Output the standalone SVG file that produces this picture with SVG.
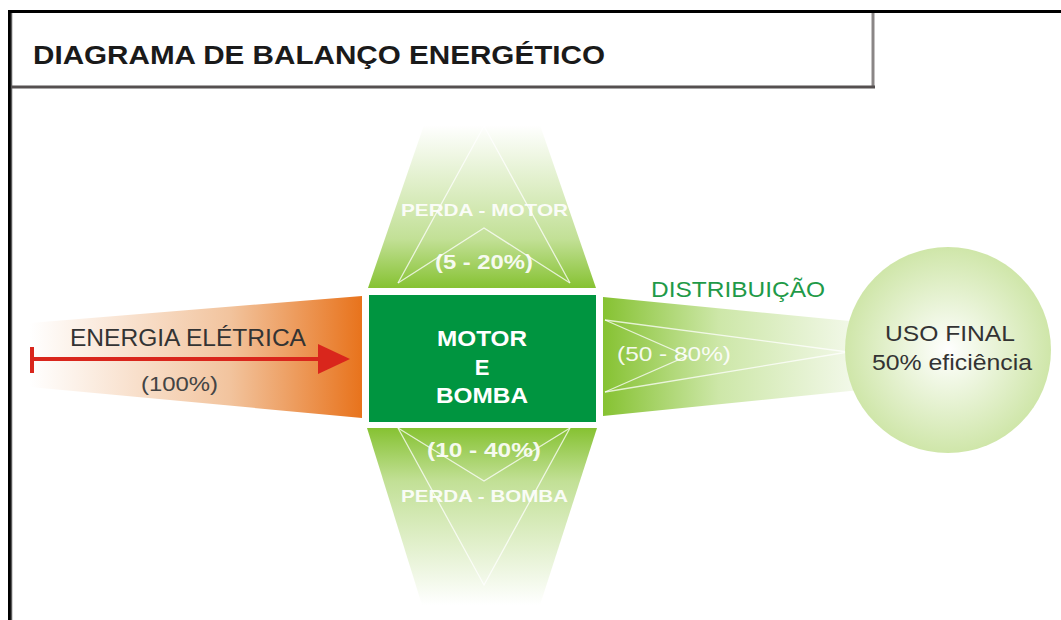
<svg xmlns="http://www.w3.org/2000/svg" width="1061" height="620" viewBox="0 0 1061 620">
<style>
.t{font-family:"Liberation Sans",Arial,sans-serif}
.w{fill:#ffffff;font-weight:bold}
.wl{stroke:#ffffff;stroke-width:1.3;fill:none;opacity:0.75}
</style>
<defs>
<linearGradient id="gOr" x1="0" y1="0" x2="1" y2="0">
<stop offset="0" stop-color="#ffffff"/>
<stop offset="0.6" stop-color="#f2c49e"/>
<stop offset="1" stop-color="#e8731c"/>
</linearGradient>
<linearGradient id="gUp" x1="0" y1="1" x2="0" y2="0">
<stop offset="0" stop-color="#86c232"/>
<stop offset="0.3" stop-color="#c2e096"/>
<stop offset="1" stop-color="#ffffff"/>
</linearGradient>
<linearGradient id="gDn" x1="0" y1="0" x2="0" y2="1">
<stop offset="0" stop-color="#86c232"/>
<stop offset="0.3" stop-color="#c2e096"/>
<stop offset="1" stop-color="#ffffff"/>
</linearGradient>
<linearGradient id="gRt" x1="0" y1="0" x2="1" y2="0">
<stop offset="0" stop-color="#86c232"/>
<stop offset="0.45" stop-color="#cde7a8"/>
<stop offset="1" stop-color="#f4f9ec"/>
</linearGradient>
<radialGradient id="gC" cx="0.5" cy="0.5" r="0.5">
<stop offset="0" stop-color="#ffffff"/>
<stop offset="1" stop-color="#cfe6a9"/>
</radialGradient>
</defs>
<rect width="1061" height="620" fill="#ffffff"/>
<g id="frame">
<line x1="8" y1="11.5" x2="1061" y2="11.5" stroke="#000" stroke-width="3"/>
<line x1="9.5" y1="10" x2="9.5" y2="620" stroke="#000" stroke-width="3"/>
<line x1="11.5" y1="13" x2="11.5" y2="620" stroke="#5a5a5a" stroke-width="1.5"/>
<line x1="873" y1="13" x2="873" y2="88" stroke="#8a8686" stroke-width="3"/>
<line x1="11" y1="87" x2="875" y2="87" stroke="#555050" stroke-width="3"/>
<text class="t" x="33" y="64" font-size="25" font-weight="bold" fill="#1a1a1a" textLength="572" lengthAdjust="spacingAndGlyphs">DIAGRAMA DE BALANÇO ENERGÉTICO</text>
</g>
<g id="energia-eletrica">
<polygon points="30,323 362,296 362,418 30,387" fill="url(#gOr)"/>
<text class="t" x="70" y="346" font-size="23" fill="#333" textLength="236" lengthAdjust="spacingAndGlyphs">ENERGIA ELÉTRICA</text>
<text class="t" x="141" y="391" font-size="20" fill="#444" textLength="77" lengthAdjust="spacingAndGlyphs">(100%)</text>
</g>
<g id="perda-motor">
<polygon points="424,125 540,125 596,288 368,288" fill="url(#gUp)"/>
<polyline class="wl" points="398,283 484,126 570,283"/>
<polyline class="wl" points="398,283 484,228 570,283"/>
<text class="t w" x="401" y="216" font-size="17" opacity="0.9" textLength="167" lengthAdjust="spacingAndGlyphs">PERDA - MOTOR</text>
<text class="t w" x="435" y="269" font-size="21" opacity="0.9" textLength="98" lengthAdjust="spacingAndGlyphs">(5 - 20%)</text>
</g>
<g id="perda-bomba">
<polygon points="367,428 597,428 540,605 422,605" fill="url(#gDn)"/>
<polyline class="wl" points="398,428 484,585 570,428"/>
<polyline class="wl" points="398,428 484,481 570,428"/>
<text class="t w" x="427" y="457" font-size="21" opacity="0.9" textLength="114" lengthAdjust="spacingAndGlyphs">(10 - 40%)</text>
<text class="t w" x="401" y="502" font-size="17" opacity="0.9" textLength="167" lengthAdjust="spacingAndGlyphs">PERDA - BOMBA</text>
</g>
<g id="distribuicao">
<polygon points="603,297 860,322 860,390 603,416" fill="url(#gRt)"/>
<polyline class="wl" points="605,320 848,352 605,392"/>
<polyline class="wl" points="605,320 687,356 605,392"/>
<text class="t" x="651" y="297" font-size="22" fill="#1f9a48" textLength="174" lengthAdjust="spacingAndGlyphs">DISTRIBUIÇÃO</text>
<text class="t" x="617" y="361" font-size="21" fill="#ffffff" opacity="0.9" textLength="114" lengthAdjust="spacingAndGlyphs">(50 - 80%)</text>
</g>
<g id="uso-final">
<circle cx="948" cy="350" r="103" fill="url(#gC)"/>
<text class="t" x="885" y="341" font-size="22" fill="#333" textLength="130" lengthAdjust="spacingAndGlyphs">USO FINAL</text>
<text class="t" x="872" y="370" font-size="22" fill="#333" textLength="160" lengthAdjust="spacingAndGlyphs">50% eficiência</text>
</g>
<g id="motor-bomba">
<rect x="368" y="294" width="229" height="129" fill="#ffffff"/>
<rect x="369" y="295" width="227" height="127" fill="#009540"/>
<text class="t w" x="437" y="346" font-size="22" textLength="90" lengthAdjust="spacingAndGlyphs">MOTOR</text>
<text class="t w" x="482" y="375" font-size="22" text-anchor="middle">E</text>
<text class="t w" x="436" y="403" font-size="22" textLength="92" lengthAdjust="spacingAndGlyphs">BOMBA</text>
</g>
<g id="connectors">
<line x1="32" y1="347" x2="32" y2="373" stroke="#d9261c" stroke-width="4"/>
<line x1="32" y1="359" x2="322" y2="359" stroke="#d9261c" stroke-width="4"/>
<polygon points="318,344 350,359 318,374" fill="#d9261c"/>
</g>
</svg>
